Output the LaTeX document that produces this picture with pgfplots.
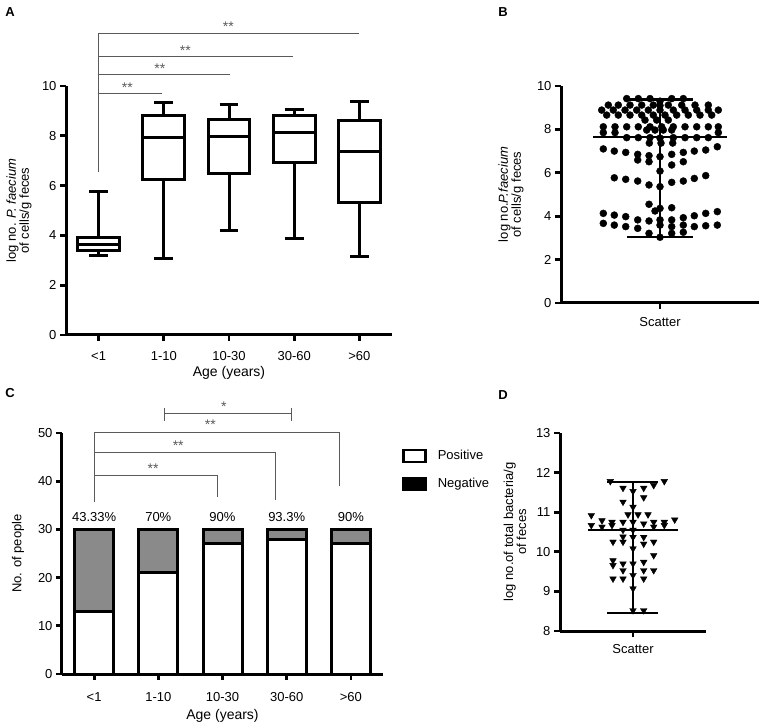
\documentclass[border=0pt]{standalone}
\usepackage{fontspec}
\setmainfont{Liberation Sans}
\usepackage{pgfplots}
\pgfplotsset{compat=1.18}
\usepgfplotslibrary{statistics}
\definecolor{barGray}{RGB}{138,138,138}
\definecolor{brk}{RGB}{90,90,90}
\pgfplotsset{
  panel/.style={
    scale only axis, axis lines=left,
    axis line style={-, line width=3pt, black},
    x axis line style={line width=3pt}, y axis line style={line width=3pt},
    tick style={line width=2.8pt, black}, major tick style={line width=2.8pt, black},
    tick align=outside, major tick length=6pt,
    tick label style={font=\fontsize{13}{13}\selectfont},
    label style={font=\fontsize{13}{13}\selectfont},
    /pgf/number format/assume math mode=true,
    anchor=south west, clip=false,
  }
}
\begin{document}
\begin{tikzpicture}
\useasboundingbox (0,0) rectangle (765pt,725pt);
\node[font=\bfseries\fontsize{13}{13}\selectfont] at (10pt,713pt) {A};
\node[font=\bfseries\fontsize{13}{13}\selectfont] at (503pt,713pt) {B};
\node[font=\bfseries\fontsize{13}{13}\selectfont] at (10pt,332pt) {C};
\node[font=\bfseries\fontsize{13}{13}\selectfont] at (503pt,330pt) {D};

% ---------------- Panel A ----------------
\begin{axis}[panel, at={(66pt,390pt)}, width=326pt, height=249pt,
  xmin=-0.5, xmax=4.5, ymin=0, ymax=10, ytick={0,2,...,10},
  xtick={0,...,4}, xticklabels={<1,1-10,10-30,30-60,>60},
  xticklabel style={yshift=-7pt},
  xlabel={Age (years)},
  xlabel style={font=\fontsize{14}{14}\selectfont, at={(axis description cs:0.5,0)}, anchor=center, yshift=-38pt},
  ylabel={log no. \textit{P. faecium}\\of cells/g feces},
  ylabel style={align=center, at={(axis description cs:-0.144,0.5)}, anchor=center},
  boxplot/draw direction=y, boxplot/box extend=0.64, boxplot/whisker extend=0.29]
\addplot[black, line width=3pt, fill=white, mark=none, boxplot prepared={draw position=0, lower whisker=3.21, lower quartile=3.41, median=3.64, upper quartile=3.91, upper whisker=5.76}] coordinates {};
\addplot[black, line width=3pt, fill=white, mark=none, boxplot prepared={draw position=1, lower whisker=3.07, lower quartile=6.25, median=7.95, upper quartile=8.80, upper whisker=9.33}] coordinates {};
\addplot[black, line width=3pt, fill=white, mark=none, boxplot prepared={draw position=2, lower whisker=4.19, lower quartile=6.49, median=7.99, upper quartile=8.65, upper whisker=9.25}] coordinates {};
\addplot[black, line width=3pt, fill=white, mark=none, boxplot prepared={draw position=3, lower whisker=3.86, lower quartile=6.92, median=8.12, upper quartile=8.82, upper whisker=9.05}] coordinates {};
\addplot[black, line width=3pt, fill=white, mark=none, boxplot prepared={draw position=4, lower whisker=3.17, lower quartile=5.34, median=7.35, upper quartile=8.61, upper whisker=9.38}] coordinates {};
\draw[brk, line width=0.8pt] (axis cs:0,6.56) -- (axis cs:0,12.11);
\draw[brk, line width=0.8pt] (axis cs:0,9.70) -- (axis cs:0.97,9.70);
\draw[brk, line width=0.8pt] (axis cs:0,10.48) -- (axis cs:2.02,10.48);
\draw[brk, line width=0.8pt] (axis cs:0,11.18) -- (axis cs:2.98,11.18);
\draw[brk, line width=0.8pt] (axis cs:0,12.11) -- (axis cs:4.0,12.11);
\node[brk, font=\fontsize{14}{14}\selectfont] at (axis cs:0.44,9.95) {**};
\node[brk, font=\fontsize{14}{14}\selectfont] at (axis cs:0.94,10.71) {**};
\node[brk, font=\fontsize{14}{14}\selectfont] at (axis cs:1.33,11.43) {**};
\node[brk, font=\fontsize{14}{14}\selectfont] at (axis cs:1.99,12.37) {**};
\end{axis}

% ---------------- Panel B ----------------
\begin{axis}[panel, at={(561pt,422pt)}, width=198pt, height=217pt,
  xmin=-99, xmax=99, ymin=0, ymax=10, ytick={0,2,...,10},
  xtick={0}, xticklabels={Scatter}, xticklabel style={yshift=-5pt},
  ylabel={log no.\textit{P.faecium}\\of cells/g feces},
  ylabel style={align=center, at={(axis description cs:-0.253,0.5)}, anchor=center}]
\addplot[only marks, mark=*, mark size=3.5pt, black] coordinates {
(-33.3,9.42) (-21.7,9.42) (-10,9.42) (11.7,9.42) (23.3,9.42) (0,9.3) (0,9.1)
(-51.7,9.12) (-41.7,9.12) (-30,9.12) (-18.3,9.12) (-6.7,9.12) (8.3,9.12) (21.7,9.12) (35,9.12) (48.3,9.12)
(-58.3,8.89) (-46.7,8.89) (-35,8.89) (-23.3,8.89) (-11.7,8.89) (0,8.89) (13.3,8.89) (25,8.89) (36.7,8.89) (48.3,8.89) (58.3,8.89)
(-53.3,8.66) (-41.7,8.66) (-30,8.66) (-18.3,8.66) (-6.7,8.66) (5,8.66) (16.7,8.66) (28.3,8.66) (40,8.66) (51.7,8.66)
(-15,8.43) (-3.3,8.43) (8.3,8.43)
(-56.7,8.12) (-45,8.12) (-33.3,8.12) (-21.7,8.12) (-10,8.12) (1.7,8.12) (13.3,8.12) (25,8.12) (36.7,8.12) (48.3,8.12) (58.3,8.12)
(-13.3,7.97) (-5,7.97) (3.3,7.97) (11.7,7.97)
(-56.7,7.85) (-45,7.85) (58.3,7.85)
(-33.3,7.62) (-21.7,7.62) (-10,7.62) (0,7.6) (13.3,7.62) (25,7.62) (36.7,7.62) (48.3,7.62)
(-10.7,7.37) (1,7.37) (12.7,7.37)
(-56.7,7.10) (-45.7,7.00) (-34.3,6.94) (-22.3,6.85) (-22.3,6.59) (-11,6.79) (-11,6.51) (0,6.74)
(11.7,6.85) (11.7,6.36) (23.3,6.94) (23.3,6.51) (34.3,7.00) (45.7,7.05) (57.3,7.20) (0,6.08)
(-45.7,5.77) (-34.3,5.70) (-22.3,5.62) (-11,5.44) (0,5.36) (11.7,5.56) (23.3,5.62) (34.3,5.74) (45.7,5.87)
(-11,4.55) (-5,4.24) (0,4.36) (11.7,4.39)
(-56.7,4.13) (-45.7,4.05) (-34.3,3.98) (-22.3,3.83) (-11,3.78) (0,3.83) (11.7,3.83) (23.3,3.93) (34.3,4.02) (45.7,4.13) (57.3,4.21)
(-56.7,3.67) (-45.7,3.59) (-34.3,3.52) (-22.3,3.44) (0,3.59) (11.7,3.52) (23.3,3.59) (34.3,3.52) (45.7,3.56) (57.3,3.59)
(-11,3.21) (0,3.03) (11.7,3.21) (23.3,3.26)
};
\addplot[black, line width=2.5pt, mark=none] coordinates {(-67,7.65) (67,7.65)};
\addplot[black, line width=2.5pt, mark=none] coordinates {(-33,9.37) (33,9.37)};
\addplot[black, line width=2.5pt, mark=none] coordinates {(-33,3.05) (33,3.05)};
\addplot[black, line width=2.5pt, mark=none] coordinates {(0,3.05) (0,9.37)};
\addplot[white, line width=0.8pt, dashed, mark=none] coordinates {(-55,8.8) (55,8.8)};
\end{axis}

% ---------------- Panel C ----------------
\begin{axis}[panel, at={(62pt,51pt)}, width=321pt, height=241pt,
  xmin=-0.5, xmax=4.5, ymin=0, ymax=50, ytick={0,10,...,50},
  xtick={0,...,4}, xticklabels={<1,1-10,10-30,30-60,>60},
  xticklabel style={yshift=-9pt},
  ybar stacked, bar width=39pt,
  xlabel={Age (years)},
  xlabel style={font=\fontsize{14}{14}\selectfont, at={(axis description cs:0.5,0)}, anchor=center, yshift=-42pt},
  ylabel={No. of people},
  ylabel style={at={(axis description cs:-0.137,0.5)}, anchor=center},
  legend style={draw=none, fill=none, at={(axis description cs:1.05,0.945)}, anchor=north west,
    font=\fontsize{13}{13}\selectfont, row sep=13pt,
    /tikz/every odd column/.append style={column sep=9pt}},
  legend cell align=left]
\addplot[fill=white, draw=black, line width=3pt, forget plot] coordinates {(0,13) (1,21) (2,27) (3,28) (4,27)};
\addplot[fill=barGray, draw=black, line width=3pt, forget plot] coordinates {(0,17) (1,9) (2,3) (3,2) (4,3)};
\addlegendimage{legend image code/.code={\draw[fill=white, draw=black, line width=2.5pt] (0pt,-6pt) rectangle (22pt,6pt);}}
\addlegendentry{Positive}
\addlegendimage{legend image code/.code={\draw[fill=black, draw=black, line width=2.5pt] (0pt,-6pt) rectangle (22pt,6pt);}}
\addlegendentry{Negative}
\node[font=\fontsize{13}{13}\selectfont] at (axis cs:0,32.6) {43.33\%};
\node[font=\fontsize{13}{13}\selectfont] at (axis cs:1,32.6) {70\%};
\node[font=\fontsize{13}{13}\selectfont] at (axis cs:2,32.6) {90\%};
\node[font=\fontsize{13}{13}\selectfont] at (axis cs:3,32.6) {93.3\%};
\node[font=\fontsize{13}{13}\selectfont] at (axis cs:4,32.6) {90\%};
% brackets
\draw[brk, line width=0.8pt] (axis cs:1.09,54.1) -- (axis cs:3.08,54.1);
\draw[brk, line width=0.8pt] (axis cs:1.09,55.1) -- (axis cs:1.09,52.5);
\draw[brk, line width=0.8pt] (axis cs:3.08,55.1) -- (axis cs:3.08,52.5);
\draw[brk, line width=0.8pt] (axis cs:0,35.7) -- (axis cs:0,50.2) -- (axis cs:3.82,50.2) -- (axis cs:3.82,39);
\draw[brk, line width=0.8pt] (axis cs:0,45.9) -- (axis cs:2.83,45.9) -- (axis cs:2.83,36.1);
\draw[brk, line width=0.8pt] (axis cs:0,41.3) -- (axis cs:1.92,41.3) -- (axis cs:1.92,36.8);
\node[brk, font=\fontsize{14}{14}\selectfont] at (axis cs:2.02,55.5) {*};
\node[brk, font=\fontsize{14}{14}\selectfont] at (axis cs:1.81,51.7) {**};
\node[brk, font=\fontsize{14}{14}\selectfont] at (axis cs:1.31,47.3) {**};
\node[brk, font=\fontsize{14}{14}\selectfont] at (axis cs:0.92,42.7) {**};
\end{axis}

% ---------------- Panel D ----------------
\begin{axis}[panel, at={(560pt,94pt)}, width=146pt, height=198pt,
  xmin=-73, xmax=73, ymin=8, ymax=13, ytick={8,...,13},
  xtick={0}, xticklabels={Scatter}, xticklabel style={yshift=-4pt},
  ylabel={log no.of total bacteria/g\\of feces},
  ylabel style={align=center, at={(axis description cs:-0.308,0.5)}, anchor=center}]
\addplot[only marks, mark=triangle*, mark size=3.8pt, mark options={rotate=180}, black] coordinates {
(-22.7,11.78) (-10,11.61) (10.7,11.61) (20.7,11.68) (31.3,11.78) (0,11.53) (10.7,11.37) (-10,11.26) (0,11.13)
(-5,10.94) (5,10.94) (15,10.94) (-41.7,10.92)
(-31,10.79) (-21,10.75) (-10,10.75) (0,10.75) (10.7,10.71) (20.7,10.75) (31.3,10.75) (41.7,10.81)
(-41.7,10.67) (-31,10.63) (-21,10.67) (20.7,10.63) (31.3,10.67) (-10,10.55) (0,10.55)
(-20,10.25) (-10,10.25) (-10,10.38) (0,10.37) (10.7,10.37) (10.7,10.2) (20.7,10.25) (0,10.08) (20.7,9.91)
(-20,9.78) (-10,9.70) (0,9.70) (10.7,9.74) (-20,9.66) (-10,9.53) (10.7,9.53) (20.7,9.53)
(-20,9.32) (-10,9.32) (0,9.41) (10.7,9.32) (0,9.07) (0,8.52) (10.7,8.52)
};
\addplot[black, line width=2.5pt, mark=none] coordinates {(-45,10.55) (45,10.55)};
\addplot[black, line width=2.5pt, mark=none] coordinates {(-26,11.76) (25,11.76)};
\addplot[black, line width=2.5pt, mark=none] coordinates {(-26,8.45) (25,8.45)};
\addplot[black, line width=2.5pt, mark=none] coordinates {(0,8.45) (0,11.76)};
\end{axis}
\end{tikzpicture}
\end{document}
